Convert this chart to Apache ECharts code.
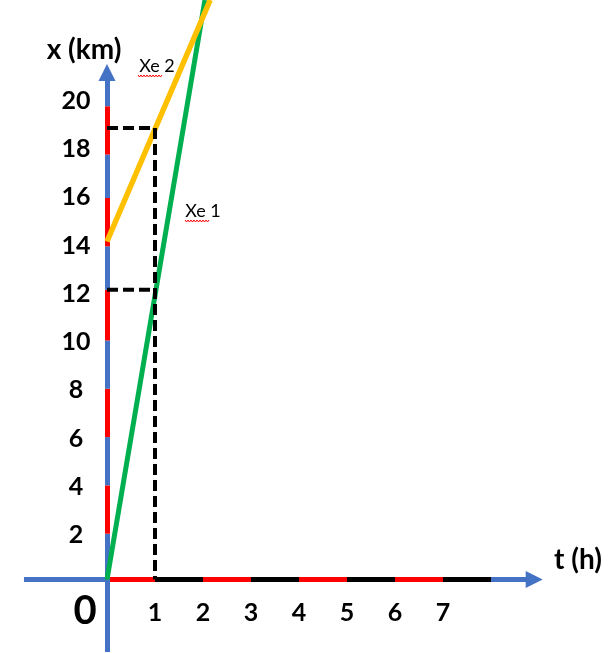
<!DOCTYPE html>
<html>
<head>
<meta charset="utf-8">
<script src="https://cdn.jsdelivr.net/npm/echarts@6/dist/echarts.min.js"></script>
<style>
html,body{margin:0;padding:0;background:#fff;}
#main{width:614px;height:653px;}
</style>
</head>
<body>
<div id="main"></div>
<script>
// tick labels
const xTicks=[1,2,3,4,5,6,7];
const yTicks=[2,4,6,8,10,12,14,16,18,20];
// coloured stripes painted on the axes (edges, data units)
const xStripes=[0,1,2,3,4,5,6,7,8];
const yStripes=[0,1.9,3.9,5.9,7.9,9.9,12,13.8,15.8,17.6,19.6];
const xAxisFrom=-1.73, xAxisTo=8.9;
const yAxisFrom=-3, yAxisTo=21;
// the two cars, [t (h), x (km)]
const xe1=[[0,0],[2.04,24]];
const xe2=[[0,14],[2.15,24]];
// dashed guides read at t = 1
const guide1=[[0,12],[1,12]];
const guide2=[[0,18.7],[1,18.7],[1,0]];

const BLUE='#4472c4',RED='#ff0000',BLACK='#000000';
const FONT='Lato';

let chart=echarts.init(document.getElementById('main'));

let segs=[];
segs.push({coords:[[xAxisFrom,0],[0,0]],lineStyle:{color:BLUE}});
for(var i=0;i<xStripes.length-1;i++){
  segs.push({coords:[[xStripes[i],0],[xStripes[i+1],0]],lineStyle:{color:i%2==0?RED:BLACK}});
}
segs.push({coords:[[0,yAxisFrom],[0,0]],lineStyle:{color:BLUE}});
for(var i=0;i<yStripes.length-1;i++){
  segs.push({coords:[[0,yStripes[i]],[0,yStripes[i+1]]],lineStyle:{color:i%2==0?BLUE:RED}});
}
let arrows=[
  {coords:[[xStripes[xStripes.length-1],0],[xAxisTo,0]]},
  {coords:[[0,yStripes[yStripes.length-1]],[0,yAxisTo]]}
];

// red squiggle under "Xe" (spell-check mark)
function squiggle(x0,x1,y){
  let pts=[];
  let k=0;
  for(var x=x0;x<=x1;x+=1.5){
    pts.push([x,k%2==0?y:y+2]);
    k++;
  }
  return {type:'polyline',shape:{points:pts},style:{stroke:RED,lineWidth:1,fill:null},silent:true};
}
function label(text,x,y,size,bold){
  return {
    type:'text',x:x,y:y,silent:true,
    style:{
      text:text,
      font:(bold?'bold ':'')+size+'px '+FONT,
      fill:'#000',
      align:'center',verticalAlign:'middle',
      textAlign:'center',textVerticalAlign:'middle'
    }
  };
}
function only(list){
  return function(v){
    return list.indexOf(Math.round(v*1000)/1000)>=0?String(v):'';
  };
}

let axisText={show:true,color:'#000',fontFamily:FONT,fontWeight:'bold',fontSize:25};

let option={
  animation:false,
  grid:{left:11,top:0,width:576,height:652},
  xAxis:{
    type:'value',min:-2,max:10,interval:1,
    axisLine:{show:false,onZero:false},
    axisTick:{show:false},
    splitLine:{show:false},
    // axis sits at the grid bottom; pull the labels up under t = 0
    axisLabel:Object.assign({margin:-52,formatter:only(xTicks)},axisText)
  },
  yAxis:{
    type:'value',min:-3,max:24,interval:1,
    axisLine:{show:false,onZero:false},
    axisTick:{show:false},
    splitLine:{show:false},
    // labels sit a little below their value in the picture
    axisLabel:Object.assign({margin:-65,align:'center',verticalAlign:'top',lineHeight:8,formatter:only(yTicks)},axisText)
  },
  series:[
    {
      type:'lines',coordinateSystem:'cartesian2d',silent:true,
      symbol:'none',
      lineStyle:{width:5,opacity:1,type:'solid'},
      data:segs,z:1
    },
    {
      type:'lines',coordinateSystem:'cartesian2d',silent:true,
      symbol:['none','triangle'],symbolSize:[17,17],
      lineStyle:{width:5,opacity:1,color:BLUE},
      itemStyle:{color:BLUE},
      data:arrows,z:1
    },
    {
      name:'Xe 1',type:'line',data:xe1,showSymbol:false,silent:true,
      lineStyle:{width:5,color:'#00b050'},z:3
    },
    {
      name:'Xe 2',type:'line',data:xe2,showSymbol:false,silent:true,
      lineStyle:{width:5.5,color:'#ffc000'},z:3
    },
    {
      type:'line',data:guide1,showSymbol:false,silent:true,
      lineStyle:{width:4,color:BLACK,type:[11,5]},z:4
    },
    {
      type:'line',data:guide2,showSymbol:false,silent:true,
      lineStyle:{width:4,color:BLACK,type:[11,5]},z:4
    }
  ],
  graphic:[
    label('x (km)',84,50,28,true),
    label('t (h)',578,560,28,true),
    label('0',85,611,40,true),
    label('Xe 2',157,66,18,false),
    label('Xe 1',203,211,18,false),
    squiggle(138,163,75),
    squiggle(185,209,220)
  ]
};
chart.setOption(option);
</script>
</body>
</html>
